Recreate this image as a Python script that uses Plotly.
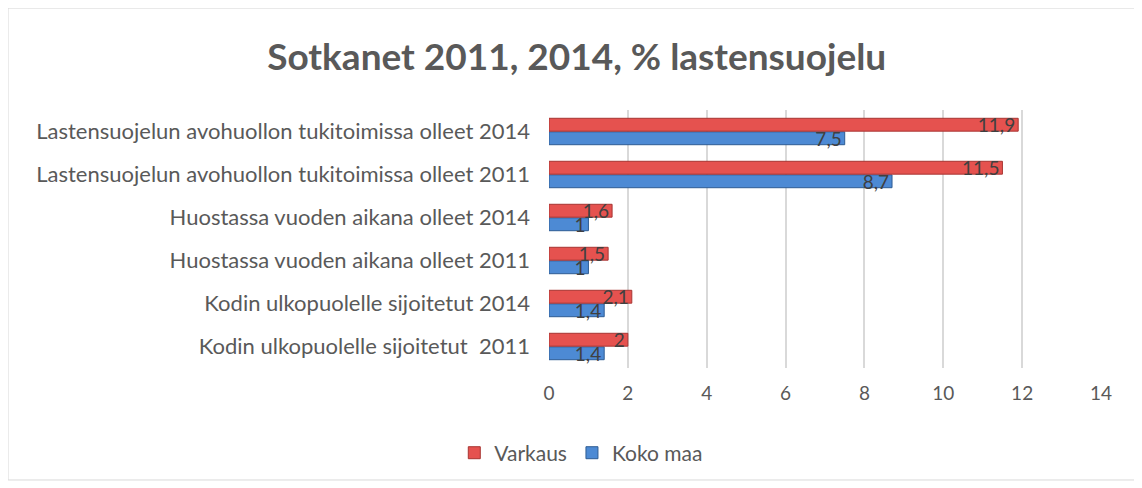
import plotly.graph_objects as go

categories = [
    "Kodin ulkopuolelle sijoitetut  2011",
    "Kodin ulkopuolelle sijoitetut 2014",
    "Huostassa vuoden aikana olleet 2011",
    "Huostassa vuoden aikana olleet 2014",
    "Lastensuojelun avohuollon tukitoimissa olleet 2011",
    "Lastensuojelun avohuollon tukitoimissa olleet 2014",
]
koko_maa = [1.4, 1.4, 1, 1, 8.7, 7.5]
varkaus = [2, 2.1, 1.5, 1.6, 11.5, 11.9]
x_ticks = [0, 2, 4, 6, 8, 10, 12, 14]

FONT = "Lato"
GREY = "#595959"

def fmt(v):
    return str(v).replace(".", ",")

fig = go.Figure()
fig.add_trace(go.Bar(
    y=categories, x=koko_maa, orientation="h", name="Koko maa",
    marker=dict(color="#4D8AD4", line=dict(color="#2E5C94", width=1)),
    text=[fmt(v) for v in koko_maa], textposition="inside", insidetextanchor="end",
    textangle=0, constraintext="none",
    textfont=dict(family=FONT, size=19, color="#404040"),
))
fig.add_trace(go.Bar(
    y=categories, x=varkaus, orientation="h", name="Varkaus",
    marker=dict(color="#E5524F", line=dict(color="#A83532", width=1)),
    text=[fmt(v) for v in varkaus], textposition="inside", insidetextanchor="end",
    textangle=0, constraintext="none",
    textfont=dict(family=FONT, size=19, color="#404040"),
))

fig.update_layout(
    width=1142, height=488,
    paper_bgcolor="white", plot_bgcolor="white",
    margin=dict(l=541, r=49, t=102, b=128, autoexpand=False),
    barmode="group", bargap=0.37, bargroupgap=0.05,
    title=dict(text="<b>Sotkanet 2011, 2014, % lastensuojelu</b>", x=0.498, xref="container",
               xanchor="center", y=0.9, yref="container", yanchor="middle",
               font=dict(family=FONT, size=37, color=GREY)),
    font=dict(family=FONT, color=GREY),
    showlegend=True,
    legend=dict(orientation="h", x=0.502, xanchor="center", xref="container",
                y=0.088, yref="container", yanchor="middle",
                traceorder="reversed", font=dict(family=FONT, size=21, color=GREY),
                itemwidth=30),
    xaxis=dict(range=[0, 14], tickvals=x_ticks, ticktext=[str(t) for t in x_ticks],
               showgrid=True, gridcolor="#D9D9D9", gridwidth=1.5, zeroline=False,
               showline=False, tickfont=dict(family=FONT, size=19, color=GREY),
               ticks="", ticklabelstandoff=12),
    yaxis=dict(categoryorder="array", categoryarray=categories, showgrid=False,
               showline=False, ticks="", tickfont=dict(family=FONT, size=22, color=GREY),
               ticklabelstandoff=18),
    shapes=[dict(type="rect", xref="paper", yref="paper", x0=-0.98, x1=1.0616,
                 y0=-0.434, y1=1.395, line=dict(color="#D9D9D9", width=1))],
)

fig.write_html("out.html")
